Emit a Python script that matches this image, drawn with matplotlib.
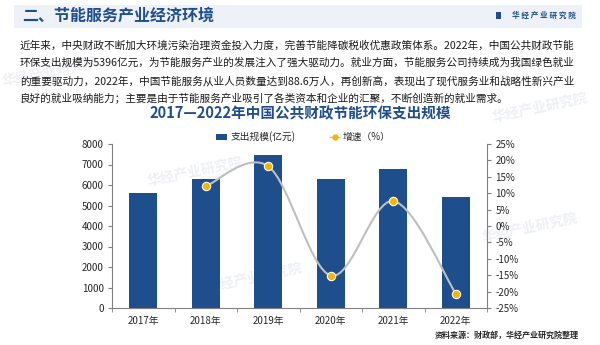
import matplotlib
matplotlib.use("Agg")
import matplotlib.pyplot as plt
from matplotlib.path import Path
from matplotlib.patches import PathPatch, Rectangle
from matplotlib.lines import Line2D
import numpy as np

plt.rcParams['font.family'] = ['Noto Sans CJK SC', 'DejaVu Sans']

years = ['2017年', '2018年', '2019年', '2020年', '2021年', '2022年']
spend = [5617, 6297, 7444, 6317, 6797, 5396]
growth_years = ['2018年', '2019年', '2020年', '2021年', '2022年']
growth = [12.1, 18.2, -15.1, 7.6, -20.6]
left_ticks = [0, 1000, 2000, 3000, 4000, 5000, 6000, 7000, 8000]
right_ticks = [-25, -20, -15, -10, -5, 0, 5, 10, 15, 20, 25]

header = '二、节能服务产业经济环境'
brand = '华 经 产 业 研 究 院'
body = [
    '近年来，中央财政不断加大环境污染治理资金投入力度，完善节能降碳税收优惠政策体系。2022年，中国公共财政节能',
    '环保支出规模为5396亿元，为节能服务产业的发展注入了强大驱动力。就业方面，节能服务公司持续成为我国绿色就业',
    '的重要驱动力，2022年，中国节能服务从业人员数量达到88.6万人，再创新高，表现出了现代服务业和战略性新兴产业',
    '良好的就业吸纳能力；主要是由于节能服务产业吸引了各类资本和企业的汇聚，不断创造新的就业需求。',
]
chart_title = '2017—2022年中国公共财政节能环保支出规模'
source = '资料来源：财政部，华经产业研究院整理'
watermark = '华经产业研究院'

BLUE = '#1f4e8c'
GOLD = '#f2b705'
GRAY = '#bfbfbf'
TXT = '#262626'

W, H = 600, 345
fig = plt.figure(figsize=(6.0, 3.45), dpi=100)
fig.patch.set_facecolor('white')

def fx(px):
    return px / W

def fy(py):
    return 1 - py / H

# header band
fig.patches.append(Rectangle((fx(14), fy(28)), fx(568), 23 / H, transform=fig.transFigure,
                             facecolor='#eef2f8', edgecolor='none', zorder=-2))
fig.text(fx(22), fy(16), header, fontsize=11.5, fontweight='bold', color=BLUE, va='center', ha='left')
fig.patches.append(Rectangle((fx(496), fy(19)), fx(5), 7 / H, transform=fig.transFigure,
                             facecolor=BLUE, edgecolor='none'))
fig.text(fx(576), fy(15.5), brand, fontsize=5.5, fontweight='bold', color=BLUE, va='center', ha='right')

# watermarks (faint, behind everything)
for (wx, wy) in [(50, 72), (195, 172), (255, 278), (530, 228), (540, 108)]:
    fig.text(fx(wx), fy(wy), watermark, fontsize=10, color='#eef0f4', rotation=12,
             ha='center', va='center', fontweight='bold', zorder=-1)

# body text
ys = [45, 63, 81, 99]
for line, y in zip(body, ys):
    fig.text(fx(20), fy(y), line, fontsize=7.65, color='#1a1a1a', va='center', ha='left')

fig.text(0.5, fy(113), chart_title, fontsize=10.5, fontweight='bold', color=BLUE, va='center', ha='center')

ax = fig.add_axes([fx(112), fy(308), fx(375), 164 / H])
ax.set_facecolor('none')
x = np.arange(len(years))
ax.bar(x, spend, width=0.45, color=BLUE, zorder=2)
ax.set_xlim(-0.5, len(years) - 0.5)
ax.set_ylim(0, 8000)
ax.set_yticks(left_ticks)
ax.set_yticklabels([str(t) for t in left_ticks])
ax.set_xticks(x)
ax.set_xticklabels(years)
ax.set_xticks(np.arange(-0.5, len(years), 1.0), minor=True)
ax.tick_params(axis='x', which='major', length=0, pad=6, labelsize=7, colors=TXT)
ax.tick_params(axis='x', which='minor', length=3, direction='out', color='#808080')
ax.tick_params(axis='y', length=3, direction='out', labelsize=7, colors=TXT, pad=3, color='#808080')
for s in ['top', 'right']:
    ax.spines[s].set_visible(False)
for s in ['left', 'bottom']:
    ax.spines[s].set_color('#808080')
    ax.spines[s].set_linewidth(0.8)

ax2 = ax.twinx()
ax2.set_ylim(-25, 25)
ax2.set_yticks(right_ticks)
ax2.set_yticklabels([f'{t}%' for t in right_ticks])
ax2.tick_params(axis='y', length=3, direction='out', labelsize=7, colors=TXT, pad=3, color='#808080')
for s in ['top', 'left', 'bottom']:
    ax2.spines[s].set_visible(False)
ax2.spines['right'].set_color('#808080')
ax2.spines['right'].set_linewidth(0.8)

gx = np.array([years.index(g) for g in growth_years], dtype=float)
gy = np.array(growth, dtype=float)
# smooth curve via Catmull-Rom -> cubic Bezier in display space
pts = ax2.transData.transform(np.column_stack([gx, gy]))
verts = [pts[0]]
codes = [Path.MOVETO]
n = len(pts)
for i in range(n - 1):
    p0 = pts[i - 1] if i > 0 else pts[i]
    p1 = pts[i]
    p2 = pts[i + 1]
    p3 = pts[i + 2] if i + 2 < n else pts[i + 1]
    c1 = p1 + (p2 - p0) / 6.0
    c2 = p2 - (p3 - p1) / 6.0
    verts += [c1, c2, p2]
    codes += [Path.CURVE4] * 3
path = Path(verts, codes)
patch = PathPatch(path, facecolor='none', edgecolor=GRAY, linewidth=1.5, transform=None, zorder=3)
ax2.add_artist(patch)
ax2.plot(gx, gy, linestyle='none', marker='o', markersize=6, markerfacecolor=GOLD,
         markeredgecolor='white', markeredgewidth=0.8, zorder=4)

# legends
h1 = Rectangle((0, 0), 1, 1, facecolor=BLUE)
h2 = Line2D([0], [0], color=GRAY, linestyle='--', linewidth=1, marker='o', markersize=3.5,
            markerfacecolor=GOLD, markeredgecolor=GOLD)
fig.legend([h1], ['支出规模(亿元)'], loc='center left', bbox_to_anchor=(fx(207), fy(137)),
           frameon=False, fontsize=7, handlelength=1.2, handleheight=0.7, handletextpad=0.3,
           labelcolor=TXT)
fig.legend([h2], ['增速（%）'], loc='center left', bbox_to_anchor=(fx(320), fy(137)),
           frameon=False, fontsize=7, handlelength=1.2, handletextpad=0.2, labelcolor=TXT)

fig.text(fx(579), fy(335), source, fontsize=5.8, color=TXT, ha='right', va='center', fontweight='bold')

fig.savefig('out.png', dpi=100)
